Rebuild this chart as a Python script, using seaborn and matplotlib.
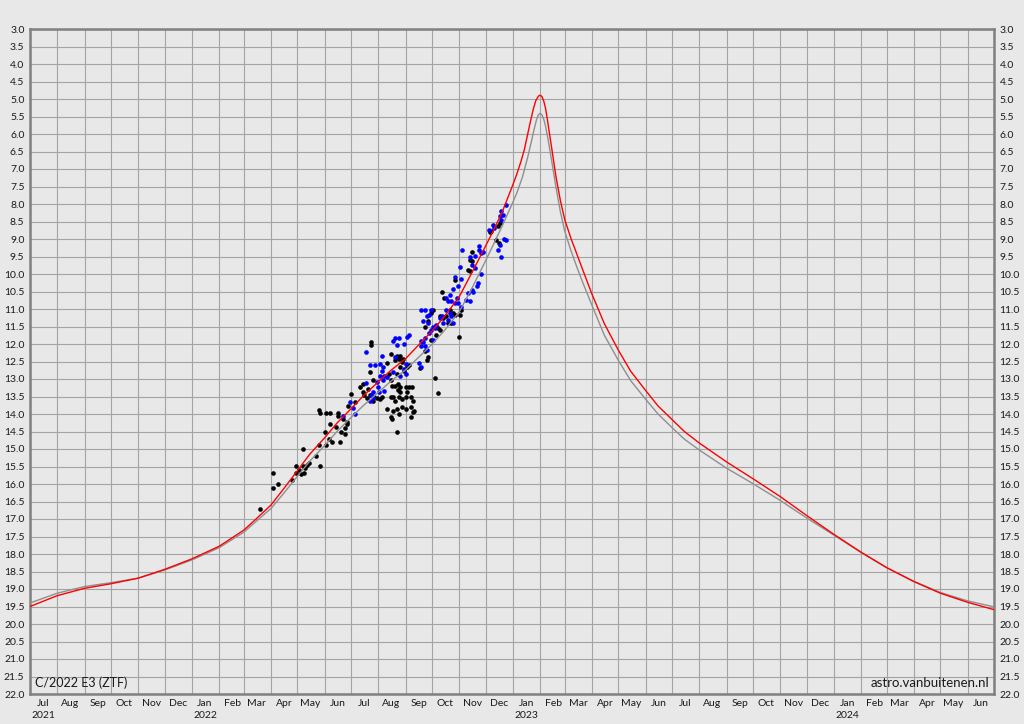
import matplotlib
matplotlib.use("Agg")
from matplotlib import pyplot as plt
import matplotlib.dates as mdates
import matplotlib.ticker as mticker
import numpy as np
import pandas as pd
import seaborn as sns

# predicted brightness curves (total magnitude)
red_dates = ["2021-07-01", "2021-08-01", "2021-09-01", "2021-10-01", "2021-11-01", "2021-12-01",
             "2022-01-01", "2022-02-01", "2022-03-01", "2022-03-15", "2022-04-01", "2022-04-15",
             "2022-05-01", "2022-05-15", "2022-06-01", "2022-06-15", "2022-07-01", "2022-07-15",
             "2022-08-01", "2022-08-15", "2022-09-01", "2022-09-15", "2022-10-01", "2022-10-15",
             "2022-11-01", "2022-11-15", "2022-12-01", "2022-12-10", "2022-12-20", "2023-01-01",
             "2023-01-05", "2023-01-10", "2023-01-14", "2023-01-17", "2023-01-20", "2023-01-24",
             "2023-01-27", "2023-01-30", "2023-02-01", "2023-02-03", "2023-02-05", "2023-02-07",
             "2023-02-09", "2023-02-12", "2023-02-15", "2023-02-19", "2023-02-24", "2023-03-01",
             "2023-03-08", "2023-03-15", "2023-03-22", "2023-04-01", "2023-04-15", "2023-05-01",
             "2023-05-15", "2023-06-01", "2023-06-15", "2023-07-01", "2023-07-15", "2023-08-01",
             "2023-09-01", "2023-10-01", "2023-11-01", "2023-12-01", "2024-01-01", "2024-02-01",
             "2024-03-01", "2024-04-01", "2024-05-01", "2024-06-01", "2024-07-01"]
red_mag = [19.50, 19.19, 18.98, 18.85, 18.69, 18.44,
           18.14, 17.78, 17.32, 17.00, 16.60, 16.15,
           15.62, 15.15, 14.68, 14.26, 13.85, 13.48,
           13.08, 12.76, 12.42, 12.05, 11.63, 11.22,
           10.65, 9.98, 9.20, 8.75, 8.22, 7.45,
           7.18, 6.80, 6.45, 6.10, 5.75, 5.31,
           5.05, 4.92, 4.89, 4.93, 5.05, 5.25,
           5.55, 6.05, 6.55, 7.22, 7.90, 8.45,
           8.98, 9.45, 9.92, 10.58, 11.42, 12.18,
           12.78, 13.33, 13.77, 14.16, 14.50, 14.83,
           15.37, 15.85, 16.36, 16.90, 17.44, 17.95,
           18.39, 18.79, 19.12, 19.38, 19.59]

grey_dates = ["2021-07-01", "2021-08-01", "2021-09-01", "2021-10-01", "2021-11-01", "2021-12-01",
              "2022-01-01", "2022-02-01", "2022-03-01", "2022-03-15", "2022-04-01", "2022-04-15",
              "2022-05-01", "2022-05-15", "2022-06-01", "2022-06-15", "2022-07-01", "2022-07-15",
              "2022-08-01", "2022-08-15", "2022-09-01", "2022-09-15", "2022-10-01", "2022-10-15",
              "2022-11-01", "2022-11-15", "2022-12-01", "2022-12-10", "2022-12-20", "2023-01-01",
              "2023-01-06", "2023-01-12", "2023-01-18", "2023-01-22", "2023-01-25", "2023-01-28",
              "2023-01-30", "2023-02-01", "2023-02-03", "2023-02-05", "2023-02-07", "2023-02-10",
              "2023-02-14", "2023-02-19", "2023-02-24", "2023-03-01", "2023-03-08", "2023-03-15",
              "2023-03-22", "2023-04-01", "2023-04-15", "2023-05-01", "2023-05-15", "2023-06-01",
              "2023-06-15", "2023-07-01", "2023-07-15", "2023-08-01", "2023-09-01", "2023-10-01",
              "2023-11-01", "2023-12-01", "2024-01-01", "2024-02-01", "2024-03-01", "2024-04-01",
              "2024-05-01", "2024-06-01", "2024-07-01"]
grey_mag = [19.40, 19.12, 18.93, 18.82, 18.69, 18.46,
            18.17, 17.82, 17.38, 17.07, 16.70, 16.28,
            15.78, 15.35, 14.90, 14.50, 14.10, 13.76,
            13.38, 13.07, 12.74, 12.40, 12.01, 11.62,
            11.08, 10.43, 9.62, 9.15, 8.62, 7.95,
            7.65, 7.22, 6.65, 6.22, 5.88, 5.58,
            5.45, 5.41, 5.45, 5.57, 5.76, 6.15,
            6.75, 7.52, 8.22, 8.78, 9.33, 9.82,
            10.28, 10.90, 11.75, 12.47, 13.05, 13.58,
            14.00, 14.39, 14.72, 15.03, 15.55, 15.99,
            16.47, 16.97, 17.46, 17.96, 18.39, 18.78,
            19.10, 19.34, 19.51]

# observations, days counted from obs_epoch
obs_epoch = "2022-01-01"
black_day = [78, 92, 92, 98, 114, 118, 118, 122, 124, 126, 126, 129, 131, 133, 127, 141, 146, 145,
             152, 151, 156, 157, 159, 164, 168, 170, 174, 174, 176, 145, 146, 152, 157, 166, 166,
             172, 176, 178, 186,
             204, 204, 226, 233, 237, 235, 231, 239, 240, 237, 245, 247, 241, 233, 224, 222, 226,
             228, 231, 234, 237, 234, 237, 243, 247, 250, 245, 243, 239, 235, 229, 226, 231, 249,
             251, 216, 214, 210, 206, 191, 195, 200, 195, 206, 202, 181, 249, 243, 239, 233, 235,
             229, 222, 226, 228, 249, 251, 253, 233, 196, 199, 203, 207,
             318, 314, 316, 299, 284, 287, 293, 297, 299, 305, 289, 286, 282, 291, 295, 306, 282,
             280, 278, 272, 274, 268, 265, 272, 265, 268, 267, 259, 304, 276, 280,
             350, 348, 340, 339, 346, 349, 318, 316]
black_mag = [16.71, 15.68, 16.10, 16.00, 15.89, 15.49, 15.68, 15.59, 15.70, 15.49, 14.99, 15.54,
             15.47, 15.39, 15.68, 15.20, 15.49, 14.88, 14.88, 14.50, 14.70, 14.29, 14.80, 14.38,
             14.80, 14.51, 14.58, 14.41, 14.29, 13.88, 13.98, 13.98, 13.98, 13.98, 14.07, 14.14,
             14.22, 13.76, 13.66,
             11.95, 12.02, 12.28, 12.33, 12.33, 12.42, 12.47, 12.52, 12.42, 12.66, 12.66, 12.61,
             12.76, 12.85, 12.85, 12.55, 13.04, 13.19, 13.19, 13.14, 13.23, 13.31, 13.38, 13.23,
             13.23, 13.23, 13.38, 13.52, 13.57, 13.52, 13.52, 13.52, 13.62, 13.52, 13.62, 13.52,
             13.57, 13.54, 13.62, 13.23, 13.38, 13.28, 13.14, 13.04, 12.81, 13.43, 13.81, 13.85,
             13.81, 13.85, 14.00, 13.90, 13.85, 14.09, 14.14, 14.09, 13.95, 13.90, 14.52, 13.45,
             13.55, 13.45, 13.50,
             9.64, 9.88, 9.92, 10.16, 10.50, 10.69, 11.02, 11.12, 11.16, 11.16, 11.21, 11.26,
             11.21, 11.40, 11.40, 11.02, 11.59, 11.55, 11.74, 11.12, 11.02, 11.35, 11.50, 11.88,
             12.21, 12.36, 12.45, 12.69, 11.80, 12.98, 13.41,
             8.54, 8.64, 8.78, 8.81, 9.02, 9.11, 9.38, 9.59]

blue_day = [172, 180, 185, 183,
            198, 216, 203, 208, 214, 217, 216, 214, 218, 222, 217, 210, 198, 206, 204, 212, 213,
            218, 206, 203, 229, 231, 236, 233, 241, 247, 245, 260, 243, 243, 241, 258, 260, 229,
            237, 231,
            305, 318, 322, 299, 306, 303, 297, 293, 289, 291, 295, 301, 299, 303, 306, 312, 316,
            314, 318, 320, 325, 324, 289, 293, 295, 291, 297, 261, 265, 272, 270, 267, 263, 268,
            274, 272, 270, 276, 278, 282, 284, 286, 274, 265, 263, 261, 265, 267,
            357, 352, 354, 350, 352, 342, 343, 338, 355, 357, 350, 348, 352, 327, 327, 329, 331,
            307, 316, 322, 329]
blue_mag = [14.05, 13.66, 14.00, 13.84,
            12.23, 12.33, 12.61, 12.61, 12.57, 12.66, 12.76, 12.90, 12.90, 12.95, 13.04, 13.09,
            13.12, 13.38, 13.47, 13.23, 13.38, 13.33, 13.54, 13.62, 11.92, 11.82, 11.82, 12.04,
            12.01, 11.73, 11.80, 11.92, 12.57, 12.85, 12.71, 12.55, 12.66, 12.81, 12.90, 12.36,
            9.80, 9.73, 9.83, 10.09, 10.14, 10.33, 10.43, 10.59, 10.69, 10.78, 10.78, 10.69,
            10.83, 10.83, 10.93, 10.73, 10.78, 10.54, 10.45, 10.50, 10.26, 10.35, 11.02, 11.12,
            11.21, 11.31, 11.40, 11.02, 11.02, 11.02, 11.16, 11.21, 11.35, 11.40, 11.50, 11.59,
            11.69, 11.55, 11.45, 11.26, 11.21, 11.40, 11.88, 11.83, 11.93, 12.07, 12.07, 12.17,
            8.02, 8.21, 8.31, 8.35, 8.45, 8.59, 8.69, 8.73, 9.00, 9.02, 9.16, 9.30, 9.51, 9.21,
            9.30, 9.40, 9.38, 9.30, 9.51, 9.49, 10.00]

comet_name = "C/2022 E3 (ZTF)"
credit = "astro.vanbuitenen.nl"

bg = "#e8e8e8"
sns.set_theme(style="white")
plt.rcParams["font.family"] = ["Lato", "DejaVu Sans"]

epoch = pd.Timestamp(obs_epoch)
black_t = epoch + pd.to_timedelta(black_day, unit="D")
blue_t = epoch + pd.to_timedelta(blue_day, unit="D")

fig = plt.figure(figsize=(10.24, 7.24), dpi=100, facecolor=bg)
ax = fig.add_axes([30 / 1024, 30 / 724, 964 / 1024, 665 / 724])
ax.set_facecolor(bg)

sns.scatterplot(x=black_t, y=black_mag, color="black", s=11, linewidth=0, ax=ax, zorder=3)
sns.scatterplot(x=blue_t, y=blue_mag, color="#0000ff", s=11, linewidth=0, ax=ax, zorder=3)
sns.lineplot(x=pd.to_datetime(grey_dates), y=grey_mag, color="#8f8f8f", lw=1.0,
             estimator=None, ax=ax, zorder=4)
sns.lineplot(x=pd.to_datetime(red_dates), y=red_mag, color="#ff0000", lw=1.0,
             estimator=None, ax=ax, zorder=5)

ax.set_xlim(pd.Timestamp("2021-07-01"), pd.Timestamp("2024-07-01"))
ax.set_ylim(22, 3)
ax.set_xlabel("")
ax.set_ylabel("")

# month grid at month starts, labels in the middle of each month
ax.xaxis.set_major_locator(mdates.MonthLocator())
ax.xaxis.set_major_formatter(mticker.NullFormatter())
ax.xaxis.set_minor_locator(mdates.MonthLocator(bymonthday=16))


def month_label(x, pos=None):
    d = mdates.num2date(x)
    txt = d.strftime("%b")
    if d.month == 1 or (d.year == 2021 and d.month == 7):
        txt += "\n" + str(d.year)
    return txt


ax.xaxis.set_minor_formatter(mticker.FuncFormatter(month_label))

ax.set_yticks(np.arange(3, 22.01, 0.5))
ax.yaxis.set_major_formatter(mticker.FormatStrFormatter("%.1f"))

ax.grid(True, which="major", color="#a3a3a3", lw=0.8)
ax.tick_params(axis="x", which="both", length=0, labelsize=7.5, pad=3.5, colors="#1a1a1a")
ax.tick_params(axis="y", which="both", length=0, labelsize=7.5, colors="#1a1a1a",
               left=True, right=True, labelleft=True, labelright=True, pad=4)
for sp in ax.spines.values():
    sp.set_color("#808080")
    sp.set_linewidth(1.8)
    sp.set_visible(True)

ax.text(0.005, 0.008, comet_name, transform=ax.transAxes, fontsize=9,
        ha="left", va="bottom", color="#1a1a1a")
ax.text(0.995, 0.008, credit, transform=ax.transAxes, fontsize=9.5,
        ha="right", va="bottom", color="#1a1a1a")

fig.canvas.draw()
for lab in ax.get_xticklabels(minor=True):
    lab.set_linespacing(1.45)

fig.savefig("out.png", dpi=100, facecolor=bg)
